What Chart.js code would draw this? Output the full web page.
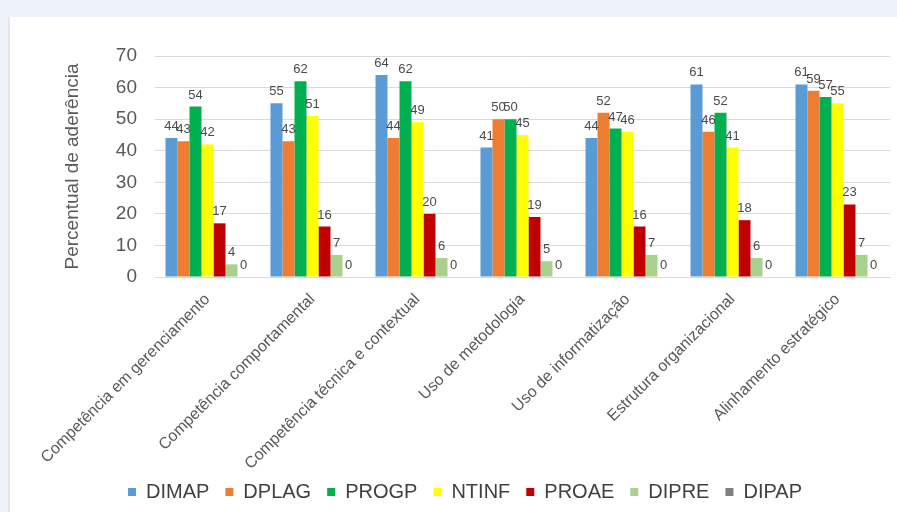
<!DOCTYPE html>
<html>
<head>
<meta charset="utf-8">
<script src="https://cdn.jsdelivr.net/npm/chart.js@4.4.1/dist/chart.umd.min.js"></script>
<style>
    html, body { margin: 0; padding: 0; }
    body { width: 897px; height: 512px; background: #eef3fb; position: relative; overflow: hidden; }
    #card { position: absolute; left: 8px; top: 17px; width: 889px; height: 495px; background: #fff; border-left: 2px solid #e3e6ea; }
    #card canvas { display: block; }
</style>
</head>
<body>
<div id="card"><canvas id="aderenciaChart" width="889" height="495"></canvas></div>
<script>
// Categorias (eixo x)
const categorias = [
    "Competência em gerenciamento",
    "Competência comportamental",
    "Competência técnica e contextual",
    "Uso de metodologia",
    "Uso de informatização",
    "Estrutura organizacional",
    "Alinhamento estratégico"
];

// Valores por unidade
const dimap = [44, 55, 64, 41, 44, 61, 61];
const dplag = [43, 43, 44, 50, 52, 46, 59];
const progp = [54, 62, 62, 50, 47, 52, 57];
const ntinf = [42, 51, 49, 45, 46, 41, 55];
const proae = [17, 16, 20, 19, 16, 18, 23];
const dipre = [4, 7, 6, 5, 7, 6, 7];
const dipap = [0, 0, 0, 0, 0, 0, 0];

const yTicks = [0, 10, 20, 30, 40, 50, 60, 70];

// Plugin simples para escrever o valor em cima de cada barra
const rotulosBarras = {
    id: "rotulosBarras",
    afterDatasetsDraw(chart) {
        const ctx = chart.ctx;
        ctx.save();
        ctx.font = "13px 'Liberation Sans', Arial, sans-serif";
        ctx.fillStyle = "#4a4a4a";
        ctx.textAlign = "center";
        ctx.textBaseline = "bottom";
        chart.data.datasets.forEach(function (ds, i) {
            const meta = chart.getDatasetMeta(i);
            meta.data.forEach(function (bar, j) {
                ctx.fillText(String(ds.data[j]), bar.x, bar.y - 5);
            });
        });
        ctx.restore();
    }
};

const ctx = document.getElementById("aderenciaChart").getContext("2d");

new Chart(ctx, {
    type: "bar",
    data: {
        labels: categorias,
        datasets: [
            { label: "DIMAP", data: dimap, backgroundColor: "#5b9bd5" },
            { label: "DPLAG", data: dplag, backgroundColor: "#ed7d31" },
            { label: "PROGP", data: progp, backgroundColor: "#00b050" },
            { label: "NTINF", data: ntinf, backgroundColor: "#ffff00" },
            { label: "PROAE", data: proae, backgroundColor: "#c00000" },
            { label: "DIPRE", data: dipre, backgroundColor: "#a9d18e" },
            { label: "DIPAP", data: dipap, backgroundColor: "#7f7f7f" }
        ]
    },
    options: {
        responsive: false,
        animation: false,
        datasets: {
            bar: {
                categoryPercentage: 0.8,
                barPercentage: 1.0
            }
        },
        layout: {
            padding: { top: 39, right: 9, left: 30, bottom: 0 }
        },
        plugins: {
            legend: {
                position: "bottom",
                labels: {
                    boxWidth: 8,
                    boxHeight: 8,
                    padding: 16,
                    color: "#404040",
                    font: { size: 20, family: "'Liberation Sans', Arial, sans-serif" }
                }
            },
            tooltip: { enabled: false }
        },
        scales: {
            x: {
                grid: { display: false, drawTicks: false },
                border: { color: "#d9d9d9" },
                ticks: {
                    color: "#595959",
                    maxRotation: 45,
                    minRotation: 45,
                    padding: 13,
                    font: { size: 16, family: "'Liberation Sans', Arial, sans-serif" }
                },
                afterFit: function (scale) {
                    scale.height = 189;
                    // os rótulos longos passam um pouco da caixa do eixo, como no original
                    scale._computeLabelArea = function () { return undefined; };
                }
            },
            y: {
                min: 0,
                max: 70,
                afterBuildTicks: function (scale) {
                    scale.ticks = yTicks.map(function (v) { return { value: v }; });
                },
                grid: { color: "#d9d9d9", drawTicks: false },
                border: { display: false },
                ticks: {
                    color: "#595959",
                    padding: 18,
                    font: { size: 19, family: "'Liberation Sans', Arial, sans-serif" }
                },
                title: {
                    display: true,
                    text: "Percentual de aderência",
                    color: "#595959",
                    padding: { top: 21, bottom: 0 },
                    font: { size: 19, family: "'Liberation Sans', Arial, sans-serif" }
                },
                afterFit: function (scale) {
                    scale.width = 115;
                }
            }
        }
    },
    plugins: [rotulosBarras]
});
</script>
</body>
</html>
